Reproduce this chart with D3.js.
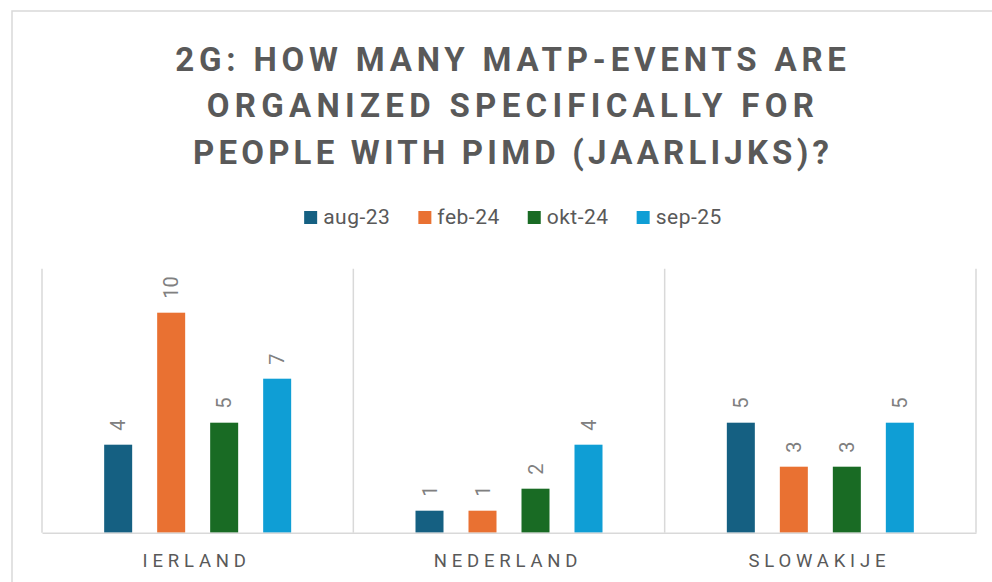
<!DOCTYPE html>
<html><head><meta charset="utf-8">
<script src="https://cdn.jsdelivr.net/npm/d3@7"></script>
<style>html,body{margin:0;padding:0;background:#fff;}svg{display:block;}</style>
</head><body>
<svg id="chart" width="992" height="582"></svg>
<script>
const titleLines = ["2G: HOW MANY MATP-EVENTS ARE", "ORGANIZED SPECIFICALLY FOR", "PEOPLE WITH PIMD (JAARLIJKS)?"];
const categories = ["IERLAND", "NEDERLAND", "SLOWAKIJE"];
const seriesNames = ["aug-23", "feb-24", "okt-24", "sep-25"];
const seriesColors = ["#156082", "#E97132", "#196B24", "#0F9ED5"];
const aug23 = [4, 1, 5];
const feb24 = [10, 1, 3];
const okt24 = [5, 2, 3];
const sep25 = [7, 4, 5];
const seriesValues = [aug23, feb24, okt24, sep25];
const yMax = 12;

const svg = d3.select("#chart");
const FONT = "Roboto, 'Open Sans', sans-serif";
const gridColor = "#d9d9d9";

// chart border
svg.append("rect").attr("x", 12).attr("y", 11).attr("width", 1000).attr("height", 600)
  .attr("fill", "#fff").attr("stroke", gridColor).attr("stroke-width", 1.5);

// title
const title = svg.append("g");
const titleLS = [4.8, 5.3, 4.2];
titleLines.forEach((t, i) => {
  title.append("text")
    .attr("x", 513).attr("y", 70.7 + i * 46.65)
    .attr("text-anchor", "middle")
    .attr("font-family", FONT).attr("font-weight", 700).attr("font-size", 33)
    .attr("letter-spacing", titleLS[i] + "px")
    .attr("fill", "#595959").text(t);
});

// scales
const plotTop = 268.7, plotBottom = 532.7, plotLeft = 42, plotRight = 976;
const x0 = d3.scaleBand().domain(categories).range([plotLeft, plotRight]).padding(0);
const groupW = 187;
const x1 = d3.scaleBand().domain(seriesNames)
  .range([(x0.bandwidth() - groupW) / 2, (x0.bandwidth() + groupW) / 2])
  .paddingInner(25 / 53).paddingOuter(0);
const y = d3.scaleLinear().domain([0, yMax]).range([plotBottom, plotTop]);

// frame lines
const grid = svg.append("g");
const bounds = categories.map(c => x0(c)).concat([plotRight]);
bounds.forEach(bx => {
  grid.append("line").attr("x1", bx).attr("x2", bx).attr("y1", plotTop).attr("y2", plotBottom)
    .attr("stroke", gridColor).attr("stroke-width", 1.5);
});

// bars
const groups = svg.append("g").selectAll("g").data(categories).join("g")
  .attr("transform", c => `translate(${x0(c)},0)`);
seriesNames.forEach((s, si) => {
  groups.append("rect")
    .attr("x", x1(s)).attr("width", x1.bandwidth())
    .attr("y", (c, ci) => y(seriesValues[si][ci]))
    .attr("height", (c, ci) => y(0) - y(seriesValues[si][ci]))
    .attr("fill", seriesColors[si]);
  const fs = 20;
  groups.append("text")
    .attr("transform", (c, ci) => `translate(${x1(s) + x1.bandwidth() / 2 + fs * 0.355},${y(seriesValues[si][ci]) - 14}) rotate(-90)`)
    .attr("font-family", FONT).attr("font-size", fs).attr("font-weight", 400)
    .attr("fill", "#808080")
    .text((c, ci) => seriesValues[si][ci]);
});

// x axis baseline
const xAxis = d3.axisBottom(x0).tickSize(0).tickPadding(0);
const axG = svg.append("g").attr("transform", `translate(0,${plotBottom})`).call(xAxis);
axG.select(".domain").attr("stroke", gridColor).attr("stroke-width", 1.5);
axG.selectAll(".tick text")
  .attr("y", 34).attr("dy", 0)
  .attr("dx", "-1px")
  .attr("font-family", FONT).attr("font-size", 18.5)
  .attr("letter-spacing", "4.8px").attr("fill", "#595959");

// legend
const legend = svg.append("g");
const legendItems = legend.selectAll("g").data(seriesNames).join("g");
legendItems.append("rect").attr("width", 13).attr("height", 13).attr("y", -13)
  .attr("fill", (d, i) => seriesColors[i]);
legendItems.append("text").attr("x", 19).attr("y", 0)
  .attr("font-family", FONT).attr("font-size", 21).attr("letter-spacing", "0.5px")
  .attr("fill", "#595959").text(d => d);
let cx = 0;
const gap = 28;
legendItems.each(function () {
  const w = 19 + this.querySelector("text").getComputedTextLength();
  d3.select(this).attr("transform", `translate(${cx},0)`);
  cx += w + gap;
});
const totalW = cx - gap;
legend.attr("transform", `translate(${513 - totalW / 2},224)`);
</script>
</body></html>
